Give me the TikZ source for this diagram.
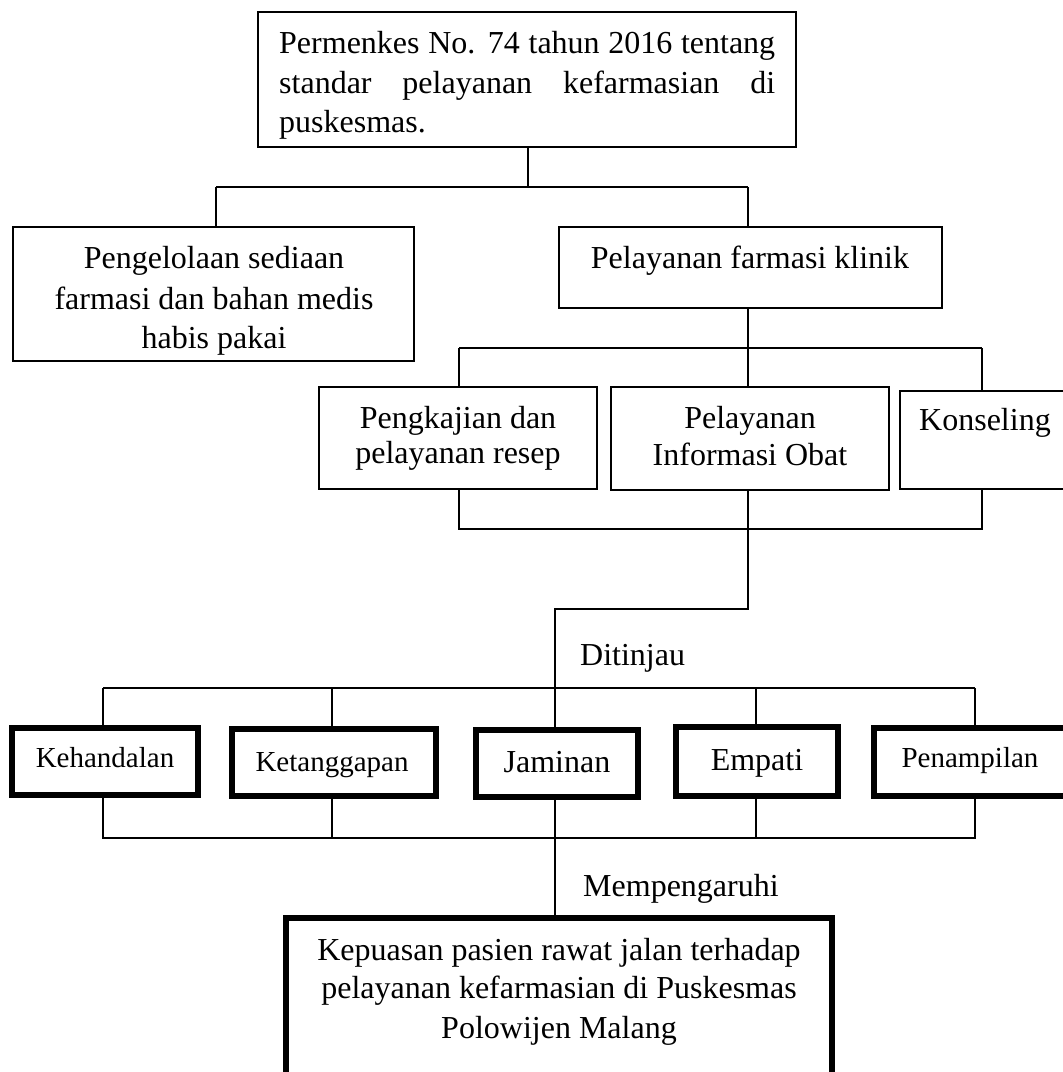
\documentclass[tikz,border=0pt]{standalone}
\usepackage{fontspec}
\setmainfont{Liberation Serif}
\begin{document}
\begin{tikzpicture}[x=1pt,y=-1pt,
  box/.style={draw, line width=1.8pt, inner sep=0pt, rectangle},
  thickbox/.style={draw, line width=6pt, inner sep=0pt, rectangle},
  conn/.style={line width=1.8pt},
  txt/.style={inner sep=0pt, font=\fontsize{32}{39}\selectfont},
  stxt/.style={inner sep=0pt, font=\fontsize{29}{35}\selectfont}]
\useasboundingbox (0,0) rectangle (1063,1072);

% boxes
\node[box, minimum width=538pt, minimum height=135pt] (top) at (527,79.5) {};
\node[box, minimum width=401pt, minimum height=134pt] (left) at (213.5,294) {};
\node[box, minimum width=383pt, minimum height=81pt] (klinik) at (750.5,267.5) {};
\node[box, minimum width=278pt, minimum height=102pt] (resep) at (458,438) {};
\node[box, minimum width=278pt, minimum height=103pt] (info) at (750,438.5) {};
\node[box, minimum width=170pt, minimum height=98pt] (kons) at (985,440) {};

\node[thickbox, minimum width=186pt, minimum height=67pt] (keh) at (105,761.5) {};
\node[thickbox, minimum width=204pt, minimum height=67pt] (ket) at (334,762.5) {};
\node[thickbox, minimum width=162pt, minimum height=67pt] (jam) at (557,763.5) {};
\node[thickbox, minimum width=162pt, minimum height=69pt] (emp) at (757,761.5) {};
\node[thickbox, minimum width=198pt, minimum height=68pt] (pen) at (973,762) {};
\node[thickbox, minimum width=546pt, minimum height=172pt] (bot) at (559,1004) {};

% texts
\node[txt, anchor=base west] (t1) at (279,53) {\makebox[496pt][s]{Permenkes No. 74 tahun 2016 tentang}};
\node[txt, anchor=base west] (t2) at (279,93) {\makebox[496pt][s]{standar pelayanan kefarmasian di}};
\node[txt, anchor=base west] (t3) at (279,132) {puskesmas.};

\node[txt, anchor=base] (l1) at (214,268) {Pengelolaan sediaan};
\node[txt, anchor=base] (l2) at (214,309) {farmasi dan bahan medis};
\node[txt, anchor=base] (l3) at (214,348) {habis pakai};

\node[txt, anchor=base] (k1) at (750,268) {Pelayanan farmasi klinik};

\node[txt, anchor=base] (r1) at (458,428) {Pengkajian dan};
\node[txt, anchor=base] (r2) at (458,463) {pelayanan resep};
\node[txt, anchor=base] (i1) at (750,428) {Pelayanan};
\node[txt, anchor=base] (i2) at (750,465) {Informasi Obat};
\node[txt, anchor=base] (c1) at (985,430) {Konseling};

\node[txt, anchor=base west] (dit) at (580,665) {Ditinjau};

\node[stxt, anchor=base] (tkeh) at (105,767) {Kehandalan};
\node[stxt, anchor=base] (tket) at (332,771) {Ketanggapan};
\node[txt, anchor=base] (tjam) at (557,772) {Jaminan};
\node[txt, anchor=base] (temp) at (757,770) {Empati};
\node[stxt, anchor=base] (tpen) at (970,767) {Penampilan};

\node[txt, anchor=base west] (mem) at (583,896) {Mempengaruhi};

\node[txt, anchor=base] (b1) at (559,960) {Kepuasan pasien rawat jalan terhadap};
\node[txt, anchor=base] (b2) at (559,998) {pelayanan kefarmasian di Puskesmas};
\node[txt, anchor=base] (b3) at (559,1038) {Polowijen Malang};

% junctions
\coordinate (a0) at (528,187);
\coordinate (aL) at (216,187);
\coordinate (aR) at (748,187);
\coordinate (bL) at (459,348);
\coordinate (bM) at (748,348);
\coordinate (bR) at (982,348);
\coordinate (cL) at (459,529);
\coordinate (cM) at (748,529);
\coordinate (cR) at (982,529);
\coordinate (s1) at (748,609);
\coordinate (s2) at (555,609);
\coordinate (d1) at (103,688);
\coordinate (d2) at (332,688);
\coordinate (d3) at (555,688);
\coordinate (d4) at (756,688);
\coordinate (d5) at (975,688);
\coordinate (e1) at (103,838);
\coordinate (e2) at (332,838);
\coordinate (e4) at (756,838);
\coordinate (e5) at (975,838);

% connectors
\draw[conn] (a0 |- top.south) -- (a0);
\draw[conn] (aL) -- (aR);
\draw[conn] (aL) -- (aL |- left.north);
\draw[conn] (aR) -- (aR |- klinik.north);

\draw[conn] (bM |- klinik.south) -- (bM);
\draw[conn] (bL) -- (bR);
\draw[conn] (bL) -- (bL |- resep.north);
\draw[conn] (bM) -- (bM |- info.north);
\draw[conn] (bR) -- (bR |- kons.north);

\draw[conn] (cL |- resep.south) -- (cL) -- (cR) -- (cR |- kons.south);
\draw[conn] (cM |- info.south) -- (s1) -- (s2) -- (s2 |- jam.north);

\draw[conn] (d1) -- (d5);
\draw[conn] (d1) -- (d1 |- keh.north);
\draw[conn] (d2) -- (d2 |- ket.north);
\draw[conn] (d4) -- (d4 |- emp.north);
\draw[conn] (d5) -- (d5 |- pen.north);

\draw[conn] (e1 |- keh.south) -- (e1) -- (e5) -- (e5 |- pen.south);
\draw[conn] (e2 |- ket.south) -- (e2);
\draw[conn] (e4 |- emp.south) -- (e4);
\draw[conn] (d3 |- jam.south) -- (d3 |- bot.north);
\end{tikzpicture}
\end{document}
